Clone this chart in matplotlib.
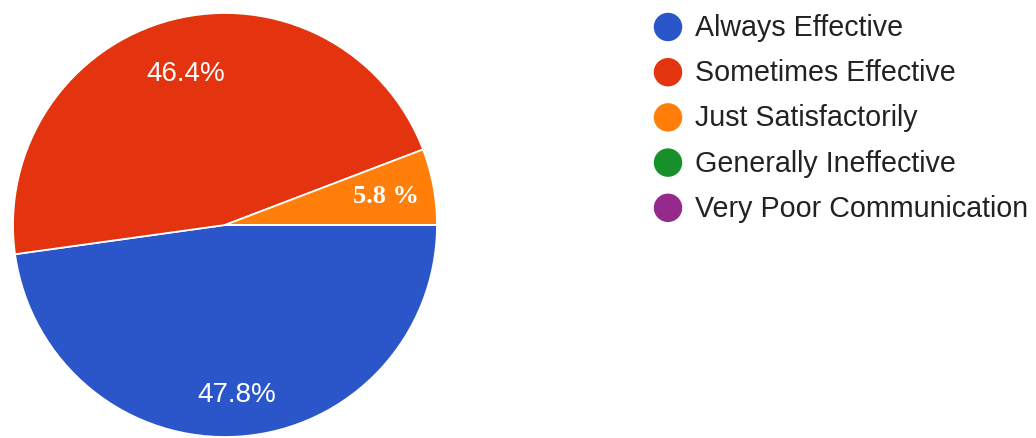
import matplotlib
matplotlib.use("Agg")
import matplotlib.pyplot as plt
import numpy as np

categories = ["Always Effective", "Sometimes Effective", "Just Satisfactorily",
              "Generally Ineffective", "Very Poor Communication"]
values = [47.8, 46.4, 5.8, 0.0, 0.0]
labels = ["47.8%", "46.4%", "5.8 %", "", ""]
colors = ["#2a56c9", "#e3330f", "#ff7f0a", "#17902a", "#962a8c"]

W, H = 1036, 439
fig = plt.figure(figsize=(W / 100, H / 100), dpi=100)
fig.patch.set_facecolor("white")

# pie axes (pixel placement)
cx, cy, r = 225, 226, 212
ax = fig.add_axes([(cx - r) / W, (H - cy - r) / H, 2 * r / W, 2 * r / H])
wedges, _ = ax.pie(values, colors=colors, startangle=0, counterclock=False,
                   wedgeprops=dict(edgecolor="white", linewidth=1.3))
ax.set_xlim(-1, 1)
ax.set_ylim(-1, 1)
ax.set_aspect("equal")
ax.axis("off")

label_r = [0.80, 0.74, 0.77, 0.7, 0.7]
for w, lab, lr, i in zip(wedges, labels, label_r, range(len(labels))):
    if not lab:
        continue
    mid = np.deg2rad((w.theta1 + w.theta2) / 2)
    x, y = lr * np.cos(mid), lr * np.sin(mid)
    if i == 2:
        ax.text(x, y, lab, ha="center", va="center", color="white",
                fontsize=19, fontweight="bold", family="Liberation Serif")
    else:
        ax.text(x, y, lab, ha="center", va="center", color="white",
                fontsize=20, family="Liberation Sans")

# legend
lax = fig.add_axes([0, 0, 1, 1])
lax.set_xlim(0, W)
lax.set_ylim(H, 0)
lax.axis("off")
y0, dy = 28, 45.2
for i, (cat, col) in enumerate(zip(categories, colors)):
    y = y0 + i * dy
    lax.scatter([668], [y], s=420, color=col, edgecolors="none")
    lax.text(695, y, cat, ha="left", va="center", fontsize=20.6,
             family="Liberation Sans", color="#222222")

fig.savefig("out.png", dpi=100, facecolor="white")
